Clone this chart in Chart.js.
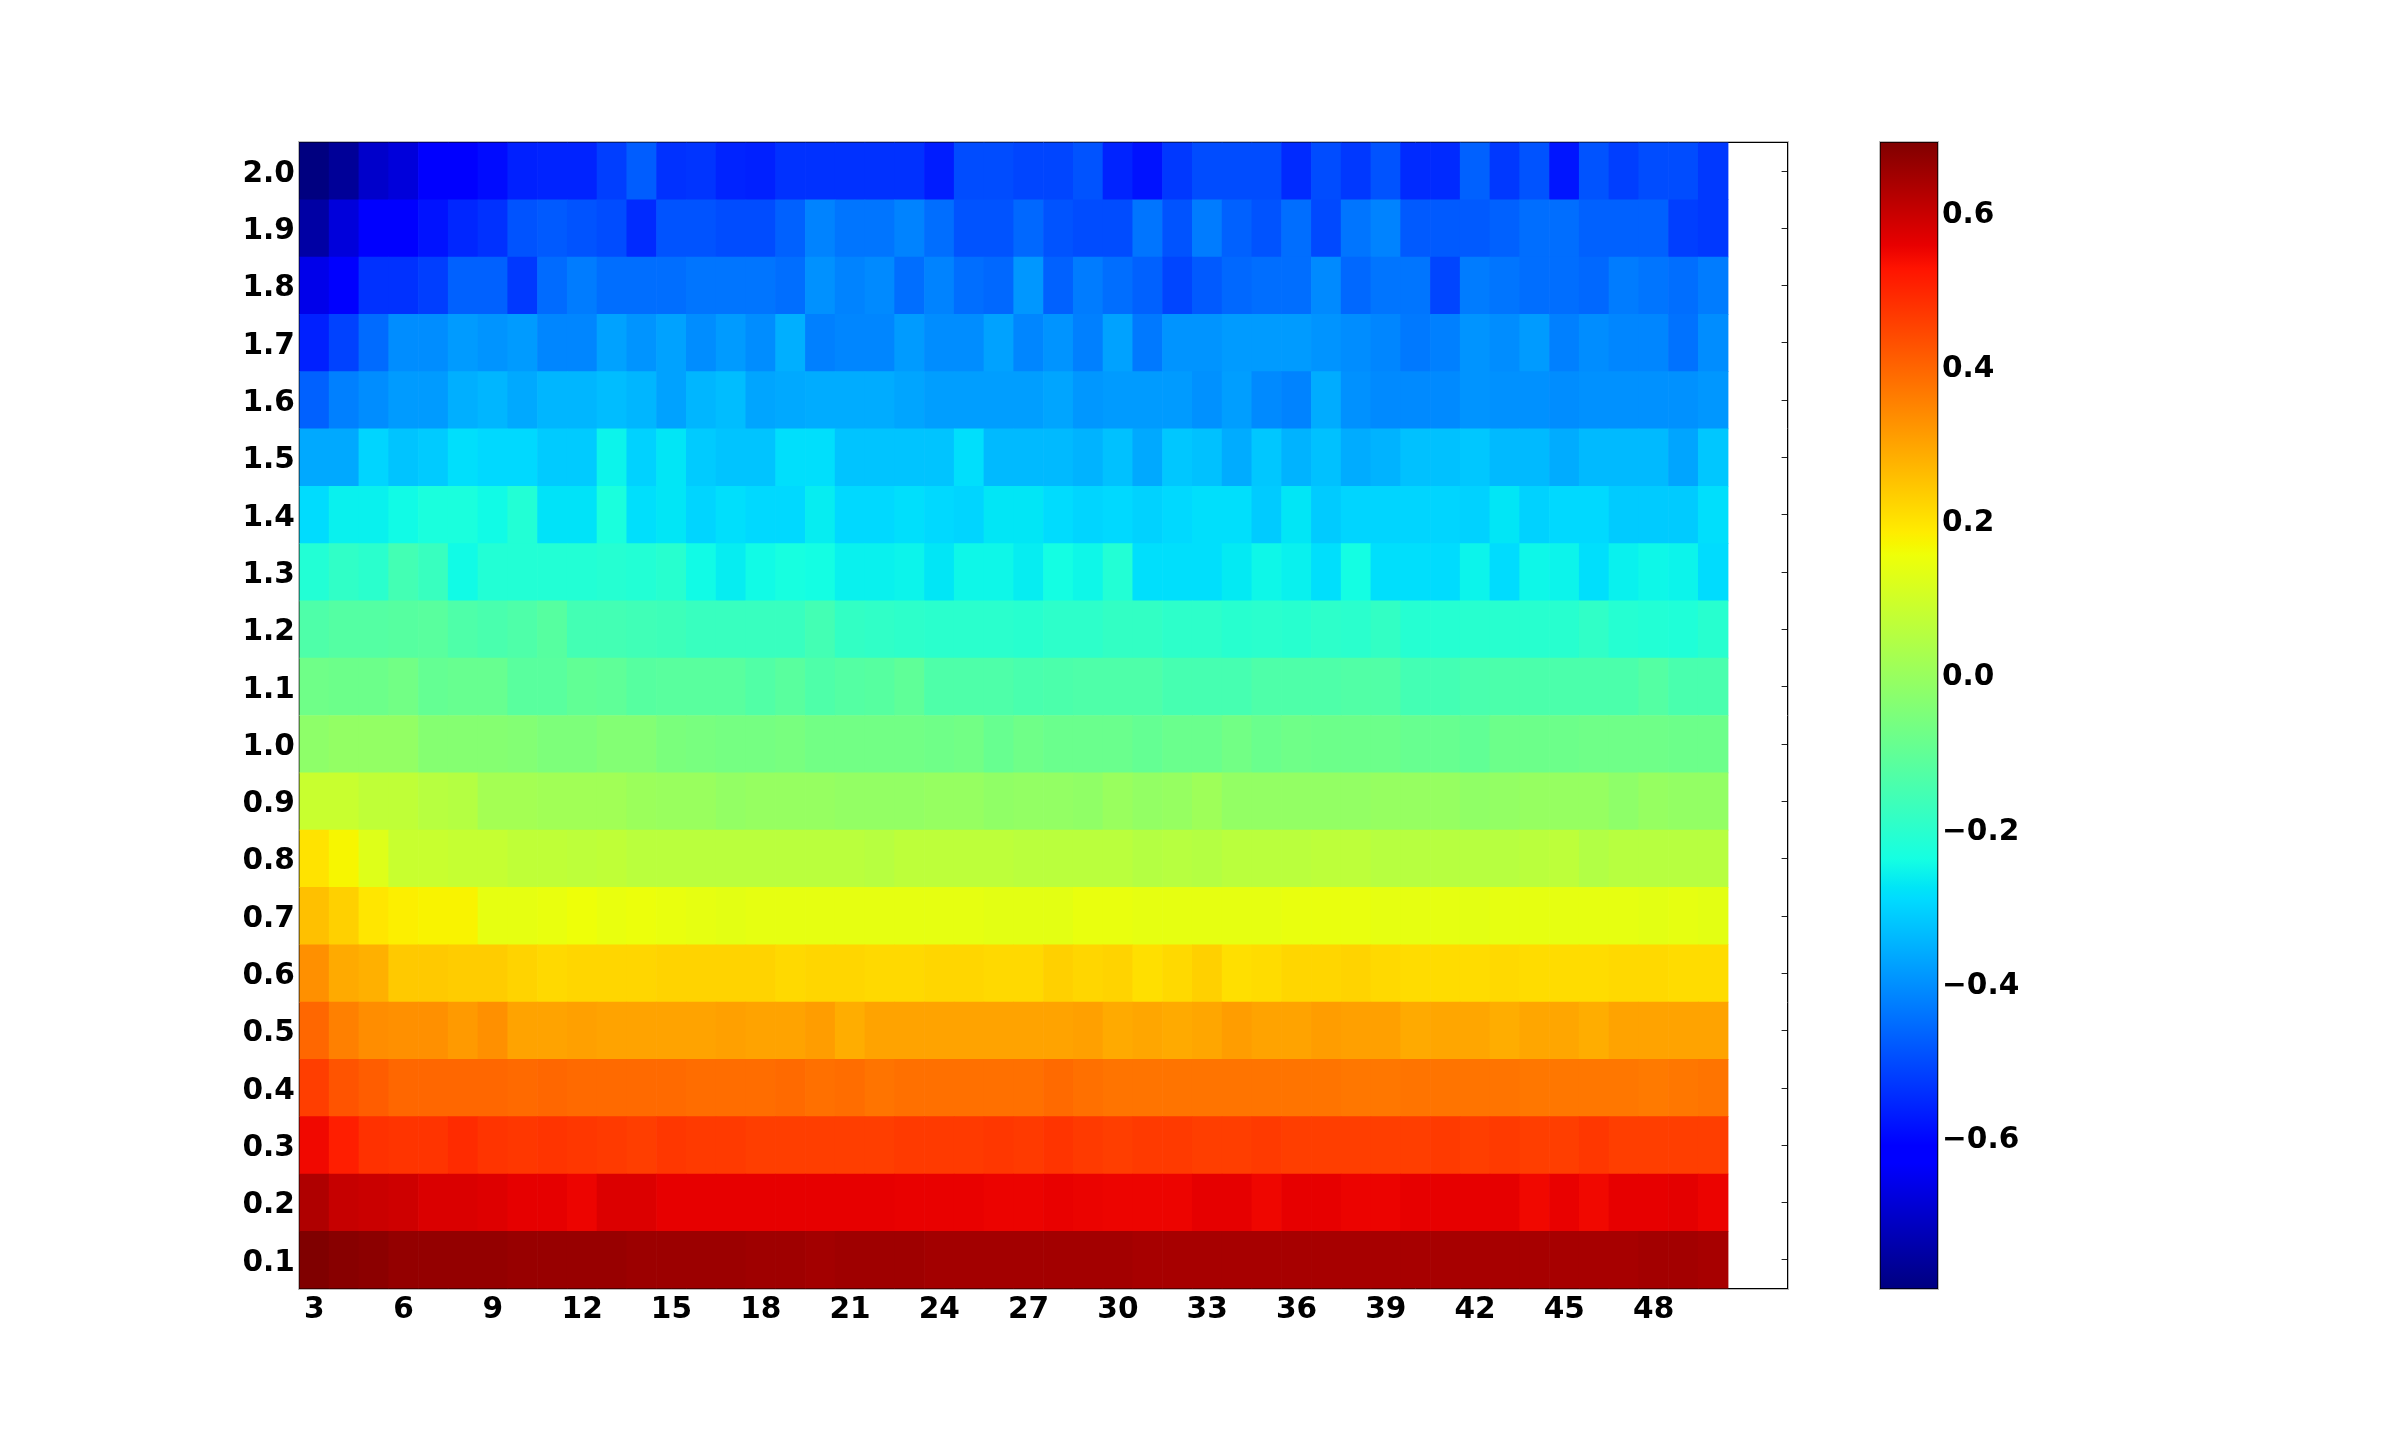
<!DOCTYPE html>
<html>
<head>
<meta charset="utf-8">
<title>Heatmap</title>
<script src="https://cdn.jsdelivr.net/npm/chart.js@4"></script>
<style>
  body { margin: 0; background: #fff; }
  canvas { position: absolute; left: 0; top: 0; }
</style>
</head>
<body>
<canvas id="heatChart" width="2400" height="1432"></canvas>
<canvas id="barChart" width="2400" height="1432"></canvas>
<script>
// values, one list per row, columns 3..50
const row20 = [-.797,-.765,-.70,-.68,-.63,-.63,-.595,-.565,-.56,-.56,-.52,-.475,-.54,-.535,-.56,-.565,-.54,-.54,-.54,-.54,-.54,-.57,-.50,-.50,-.51,-.51,-.49,-.56,-.585,-.53,-.50,-.50,-.50,-.55,-.50,-.53,-.49,-.55,-.55,-.47,-.53,-.49,-.58,-.49,-.52,-.50,-.50,-.53];
const row19 = [-.75,-.68,-.615,-.615,-.585,-.555,-.54,-.49,-.48,-.49,-.50,-.55,-.49,-.49,-.50,-.50,-.47,-.42,-.44,-.44,-.42,-.45,-.49,-.49,-.46,-.49,-.50,-.50,-.44,-.49,-.43,-.47,-.49,-.45,-.505,-.44,-.42,-.48,-.48,-.48,-.47,-.45,-.45,-.47,-.47,-.47,-.52,-.53];
const row18 = [-.66,-.615,-.54,-.54,-.52,-.47,-.47,-.53,-.455,-.43,-.45,-.45,-.45,-.44,-.44,-.44,-.45,-.40,-.42,-.41,-.45,-.42,-.45,-.46,-.39,-.47,-.43,-.45,-.47,-.51,-.48,-.46,-.45,-.45,-.41,-.46,-.44,-.44,-.51,-.43,-.44,-.45,-.45,-.46,-.43,-.44,-.45,-.43];
const row17 = [-.565,-.515,-.455,-.405,-.405,-.385,-.395,-.385,-.415,-.415,-.375,-.395,-.375,-.405,-.385,-.405,-.355,-.425,-.415,-.415,-.385,-.405,-.405,-.375,-.415,-.395,-.425,-.375,-.435,-.395,-.395,-.385,-.385,-.385,-.395,-.405,-.415,-.435,-.425,-.395,-.405,-.385,-.425,-.405,-.415,-.415,-.445,-.405];
const row16 = [-.47,-.425,-.405,-.385,-.385,-.355,-.345,-.365,-.345,-.345,-.335,-.345,-.375,-.345,-.335,-.37,-.365,-.36,-.36,-.36,-.37,-.38,-.38,-.38,-.38,-.37,-.39,-.385,-.385,-.385,-.40,-.38,-.41,-.42,-.36,-.40,-.41,-.41,-.41,-.395,-.40,-.40,-.405,-.40,-.40,-.40,-.40,-.39];
const row15 = [-.365,-.365,-.30,-.325,-.315,-.285,-.295,-.295,-.315,-.315,-.255,-.305,-.275,-.315,-.325,-.325,-.285,-.285,-.325,-.325,-.325,-.325,-.285,-.34,-.34,-.34,-.35,-.33,-.365,-.32,-.33,-.36,-.32,-.35,-.33,-.36,-.35,-.33,-.33,-.32,-.34,-.34,-.36,-.34,-.34,-.34,-.37,-.32];
const row14 = [-.29,-.26,-.26,-.245,-.23,-.23,-.245,-.215,-.28,-.28,-.23,-.285,-.275,-.30,-.285,-.295,-.295,-.265,-.295,-.295,-.285,-.295,-.30,-.275,-.275,-.29,-.30,-.295,-.305,-.295,-.285,-.285,-.315,-.275,-.315,-.30,-.30,-.30,-.30,-.305,-.275,-.305,-.295,-.295,-.315,-.315,-.315,-.285];
const row13 = [-.215,-.19,-.20,-.155,-.175,-.245,-.215,-.215,-.215,-.215,-.21,-.215,-.205,-.245,-.265,-.245,-.235,-.24,-.26,-.26,-.255,-.275,-.25,-.25,-.265,-.24,-.25,-.215,-.285,-.285,-.285,-.27,-.25,-.26,-.285,-.24,-.285,-.285,-.29,-.255,-.29,-.25,-.255,-.285,-.26,-.25,-.255,-.29];
const row12 = [-.135,-.125,-.125,-.12,-.115,-.135,-.145,-.135,-.12,-.155,-.155,-.16,-.165,-.175,-.175,-.175,-.175,-.155,-.185,-.19,-.195,-.20,-.20,-.20,-.205,-.195,-.195,-.185,-.185,-.195,-.195,-.205,-.20,-.205,-.195,-.20,-.185,-.21,-.21,-.205,-.205,-.205,-.205,-.19,-.21,-.215,-.22,-.205];
const row11 = [-.075,-.08,-.08,-.07,-.095,-.09,-.09,-.115,-.115,-.10,-.105,-.12,-.115,-.115,-.115,-.13,-.115,-.135,-.125,-.12,-.105,-.135,-.135,-.135,-.145,-.14,-.135,-.135,-.135,-.15,-.15,-.15,-.135,-.135,-.135,-.13,-.13,-.155,-.155,-.145,-.14,-.14,-.14,-.14,-.14,-.125,-.145,-.145];
const row10 = [-.02,-.01,-.01,-.01,-.035,-.035,-.035,-.04,-.05,-.05,-.04,-.04,-.055,-.06,-.065,-.065,-.06,-.07,-.07,-.07,-.07,-.075,-.07,-.09,-.075,-.085,-.085,-.085,-.095,-.085,-.085,-.07,-.085,-.075,-.08,-.08,-.08,-.09,-.09,-.10,-.08,-.08,-.08,-.075,-.075,-.075,-.08,-.08];
const row09 = [.085,.085,.07,.07,.055,.05,.02,.02,.015,.015,.015,.005,0,0,-.01,-.005,-.005,-.005,-.01,-.01,-.01,-.005,-.005,-.015,-.01,-.01,-.015,0,-.01,-.005,.01,-.01,-.01,-.01,-.01,-.01,-.005,-.005,-.005,-.015,-.01,-.005,-.005,-.005,-.02,-.005,-.01,-.01];
const row08 = [.20,.17,.125,.085,.085,.08,.08,.07,.07,.065,.07,.06,.06,.06,.06,.06,.06,.06,.06,.055,.065,.065,.065,.065,.06,.06,.06,.06,.05,.055,.05,.06,.06,.06,.065,.065,.055,.055,.055,.055,.055,.06,.065,.045,.055,.055,.055,.055];
const row07 = [.255,.23,.195,.18,.175,.175,.14,.14,.145,.155,.145,.15,.145,.14,.135,.14,.14,.14,.14,.14,.14,.14,.14,.135,.135,.135,.145,.145,.14,.14,.14,.14,.14,.145,.145,.145,.14,.14,.14,.135,.14,.14,.14,.14,.14,.135,.14,.135];
const row06 = [.33,.29,.28,.24,.24,.235,.235,.225,.215,.22,.22,.22,.225,.225,.225,.225,.215,.22,.22,.215,.215,.22,.22,.215,.215,.23,.22,.225,.205,.215,.23,.205,.21,.22,.22,.225,.215,.21,.21,.21,.215,.21,.21,.21,.215,.215,.21,.21];
const row05 = [.395,.355,.335,.33,.33,.315,.33,.30,.30,.305,.30,.30,.30,.30,.305,.30,.30,.31,.285,.30,.30,.30,.30,.30,.30,.30,.305,.29,.295,.29,.295,.31,.30,.30,.31,.305,.305,.29,.295,.295,.285,.295,.295,.285,.30,.30,.30,.30];
const row04 = [.46,.425,.41,.395,.395,.395,.395,.39,.395,.39,.39,.39,.39,.385,.385,.385,.39,.38,.385,.375,.38,.38,.38,.38,.38,.39,.38,.375,.375,.375,.375,.375,.375,.375,.375,.37,.37,.375,.375,.375,.375,.37,.37,.37,.37,.365,.37,.375];
const row03 = [.545,.51,.48,.475,.475,.49,.475,.47,.475,.47,.465,.46,.47,.465,.465,.46,.46,.46,.46,.46,.465,.465,.465,.47,.465,.475,.465,.46,.465,.465,.46,.46,.465,.46,.46,.46,.46,.46,.465,.46,.465,.46,.46,.47,.46,.46,.46,.46];
const row02 = [.63,.60,.595,.59,.575,.575,.57,.56,.56,.55,.572,.572,.558,.558,.558,.558,.558,.558,.558,.558,.555,.555,.555,.552,.552,.555,.553,.55,.55,.55,.56,.56,.548,.558,.558,.552,.552,.558,.558,.558,.56,.545,.555,.545,.558,.558,.562,.552];
const row01 = [.691,.68,.675,.665,.665,.665,.665,.66,.66,.66,.66,.655,.655,.655,.655,.65,.65,.645,.65,.65,.65,.645,.645,.645,.645,.645,.645,.645,.64,.64,.64,.64,.64,.64,.64,.64,.64,.64,.64,.64,.64,.64,.64,.64,.64,.645,.645,.64];

const rows = [row01,row02,row03,row04,row05,row06,row07,row08,row09,row10,row11,row12,row13,row14,row15,row16,row17,row18,row19,row20];
const rowLabels = [0.1,0.2,0.3,0.4,0.5,0.6,0.7,0.8,0.9,1.0,1.1,1.2,1.3,1.4,1.5,1.6,1.7,1.8,1.9,2.0];
const columns = [3,4,5,6,7,8,9,10,11,12,13,14,15,16,17,18,19,20,21,22,23,24,25,26,27,28,29,30,31,32,33,34,35,36,37,38,39,40,41,42,43,44,45,46,47,48,49,50];
const xTicks = [3,6,9,12,15,18,21,24,27,30,33,36,39,42,45,48];
const barTicks = [-0.6,-0.4,-0.2,0,0.2,0.4,0.6];
const vmin = -0.797;
const vmax = 0.691;

// matplotlib jet colormap
function ramp(t, pts) {
    for (let i = 1; i < pts.length; i++) {
        if (t <= pts[i][0]) {
            const a = pts[i - 1], b = pts[i];
            return a[1] + (b[1] - a[1]) * (t - a[0]) / (b[0] - a[0]);
        }
    }
    return pts[pts.length - 1][1];
}
function jet(t) {
    t = Math.min(1, Math.max(0, t));
    const r = ramp(t, [[0,0],[.35,0],[.66,1],[.89,1],[1,.5]]);
    const g = ramp(t, [[0,0],[.125,0],[.375,1],[.64,1],[.91,0],[1,0]]);
    const b = ramp(t, [[0,.5],[.11,1],[.34,1],[.65,0],[1,0]]);
    return `rgb(${Math.round(r*255)},${Math.round(g*255)},${Math.round(b*255)})`;
}
const valueColor = v => jet((v - vmin) / (vmax - vmin));

const tickFont = { family: 'DejaVu Sans', size: 29.6, weight: 'bold' };
const borderOpts = { display: true, color: '#000', width: 1 };
const gridOpts = { drawOnChartArea: false, offset: false, color: '#000', lineWidth: 1, tickLength: -6, tickColor: '#222' };

// light halo just outside the frame, the old antialiased look of the axes box
const frameHalo = {
    id: 'frameHalo',
    afterDraw(chart) {
        const a = chart.chartArea, c = chart.ctx;
        const l = Math.round(a.left) - 0.5, t = Math.round(a.top) - 0.5;
        const r = Math.round(a.right) + 0.5, b = Math.round(a.bottom) + 0.5;
        c.save();
        c.strokeStyle = '#bbb';
        c.lineWidth = 1;
        c.strokeRect(l, t, r - l, b - t);
        c.restore();
    }
};

const datasets = rows.map((row, r) => ({
    label: String(rowLabels[r]),
    data: row.map((v, i) => ({ x: columns[i], y: [rowLabels[r] - 0.05, rowLabels[r] + 0.05], v: v })),
    backgroundColor: ctx => valueColor(ctx.raw ? ctx.raw.v : 0),
    borderWidth: 0,
    barPercentage: 1,
    categoryPercentage: 1,
    grouped: false
}));

new Chart(document.getElementById('heatChart'), {
    type: 'bar',
    data: { datasets: datasets },
    plugins: [frameHalo],
    options: {
        responsive: false,
        animation: false,
        events: [],
        layout: { padding: { left: 0, top: 142.4, right: 612.4, bottom: 83.4 } },
        plugins: { legend: { display: false }, tooltip: { enabled: false } },
        scales: {
            x: {
                type: 'linear', position: 'bottom', min: 2.5, max: 52.5, offset: false,
                grid: gridOpts, border: borderOpts,
                afterBuildTicks: s => { s.ticks = xTicks.map(v => ({ value: v })); },
                afterFit: s => { s.height = 60; },
                ticks: { color: '#000', font: tickFont, padding: 10, maxRotation: 0, autoSkip: false, callback: v => String(v) }
            },
            xTop: {
                type: 'linear', position: 'top', min: 2.5, max: 52.5, offset: false,
                grid: gridOpts, border: borderOpts,
                afterBuildTicks: s => { s.ticks = xTicks.map(v => ({ value: v })); },
                afterFit: s => { s.height = 0; },
                ticks: { display: false }
            },
            y: {
                type: 'linear', position: 'left', min: 0.05, max: 2.05,
                grid: gridOpts, border: borderOpts,
                afterBuildTicks: s => { s.ticks = rowLabels.map(v => ({ value: v })); },
                afterFit: s => { s.width = 299.4; },
                ticks: { color: '#000', font: tickFont, padding: 10.5, labelOffset: 3, autoSkip: false, callback: v => v.toFixed(1) }
            },
            yRight: {
                type: 'linear', position: 'right', min: 0.05, max: 2.05,
                grid: gridOpts, border: borderOpts,
                afterBuildTicks: s => { s.ticks = rowLabels.map(v => ({ value: v })); },
                afterFit: s => { s.width = 0; },
                ticks: { display: false }
            }
        }
    }
});

// colorbar, second chart on its own canvas on top of the first
const jetStops = [0,.11,.125,.34,.35,.375,.64,.65,.66,.89,.91,1];
function barGradient(ctx) {
    const area = ctx.chart.chartArea;
    if (!area) return '#000';
    const g = ctx.chart.ctx.createLinearGradient(0, area.bottom, 0, area.top);
    jetStops.forEach(s => g.addColorStop(s, jet(s)));
    return g;
}

new Chart(document.getElementById('barChart'), {
    type: 'bar',
    data: {
        labels: ['colorbar'],
        datasets: [{
            data: [[vmin, vmax]],
            backgroundColor: barGradient,
            borderColor: '#000',
            borderWidth: 1,
            borderSkipped: false,
            barPercentage: 1,
            categoryPercentage: 1
        }]
    },
    plugins: [frameHalo],
    options: {
        responsive: false,
        animation: false,
        events: [],
        layout: { padding: { left: 1880, top: 142, right: 362, bottom: 143 } },
        plugins: { legend: { display: false }, tooltip: { enabled: false } },
        scales: {
            x: { display: false },
            y: {
                type: 'linear', position: 'right', min: vmin, max: vmax,
                grid: gridOpts, border: { display: false },
                afterBuildTicks: s => { s.ticks = barTicks.map(v => ({ value: v })); },
                afterFit: s => { s.width = 100; },
                ticks: { color: '#000', font: tickFont, padding: 10, labelOffset: 3, autoSkip: false,
                    callback: v => (v < -0.001 ? '\u2212' : '') + Math.abs(v).toFixed(1) }
            }
        }
    }
});
</script>
</body>
</html>
